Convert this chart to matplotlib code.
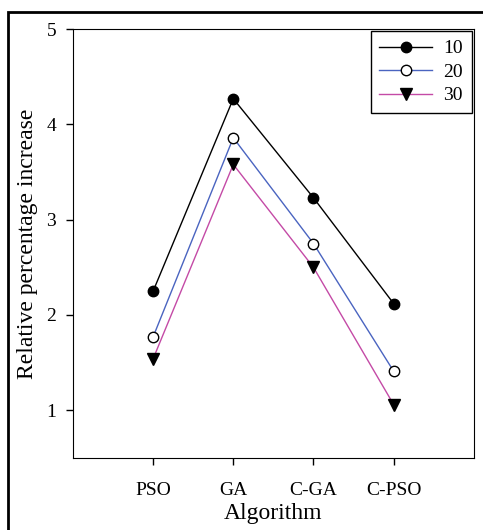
import matplotlib.pyplot as plt
from matplotlib.patches import Rectangle

algorithms = ["PSO", "GA", "C-GA", "C-PSO"]
series_labels = ["10", "20", "30"]
values_10 = [2.25, 4.27, 3.23, 2.12]
values_20 = [1.77, 3.86, 2.75, 1.41]
values_30 = [1.54, 3.58, 2.50, 1.06]

plt.rcParams["font.family"] = ["Liberation Serif", "DejaVu Serif"]

fig = plt.figure(figsize=(4.83, 5.30), dpi=100)
ax = fig.add_axes([0.151, 0.136, 0.830, 0.809])

# outer frame around the figure (right/bottom edges are cut off)
fig.patches.append(Rectangle((0.0166, -0.1), 1.2, 1.077, transform=fig.transFigure,
                             fill=False, ec="black", lw=2.0))

x = list(range(1, len(algorithms) + 1))
ax.plot(x, values_10, color="black", lw=1.0, marker="o", ms=7.5,
        mfc="black", mec="black", label=series_labels[0])
ax.plot(x, values_20, color="#4a64c0", lw=1.0, marker="o", ms=7.5,
        mfc="white", mec="black", label=series_labels[1])
ax.plot(x, values_30, color="#c44aa6", lw=1.0, marker="v", ms=8.5,
        mfc="black", mec="black", label=series_labels[2])

ax.set_xlim(0, 5)
ax.set_ylim(0.5, 5)
ax.set_xticks(x)
ax.set_xticklabels(algorithms)
ax.set_yticks([1, 2, 3, 4, 5])
ax.tick_params(direction="out", length=5, width=1, labelsize=14, pad=7)
ax.tick_params(axis="x", pad=12)
ax.set_xlabel("Algorithm", fontsize=17, labelpad=3)
ax.set_ylabel("Relative percentage increase", fontsize=17, labelpad=6)

leg = ax.legend(loc="upper right", fontsize=14, fancybox=False, edgecolor="black",
                framealpha=1, borderaxespad=0.1, borderpad=0.45, handlelength=2.7,
                labelspacing=0.3, handletextpad=0.6)
leg.get_frame().set_linewidth(1.0)

plt.savefig("out.png", dpi=100)
